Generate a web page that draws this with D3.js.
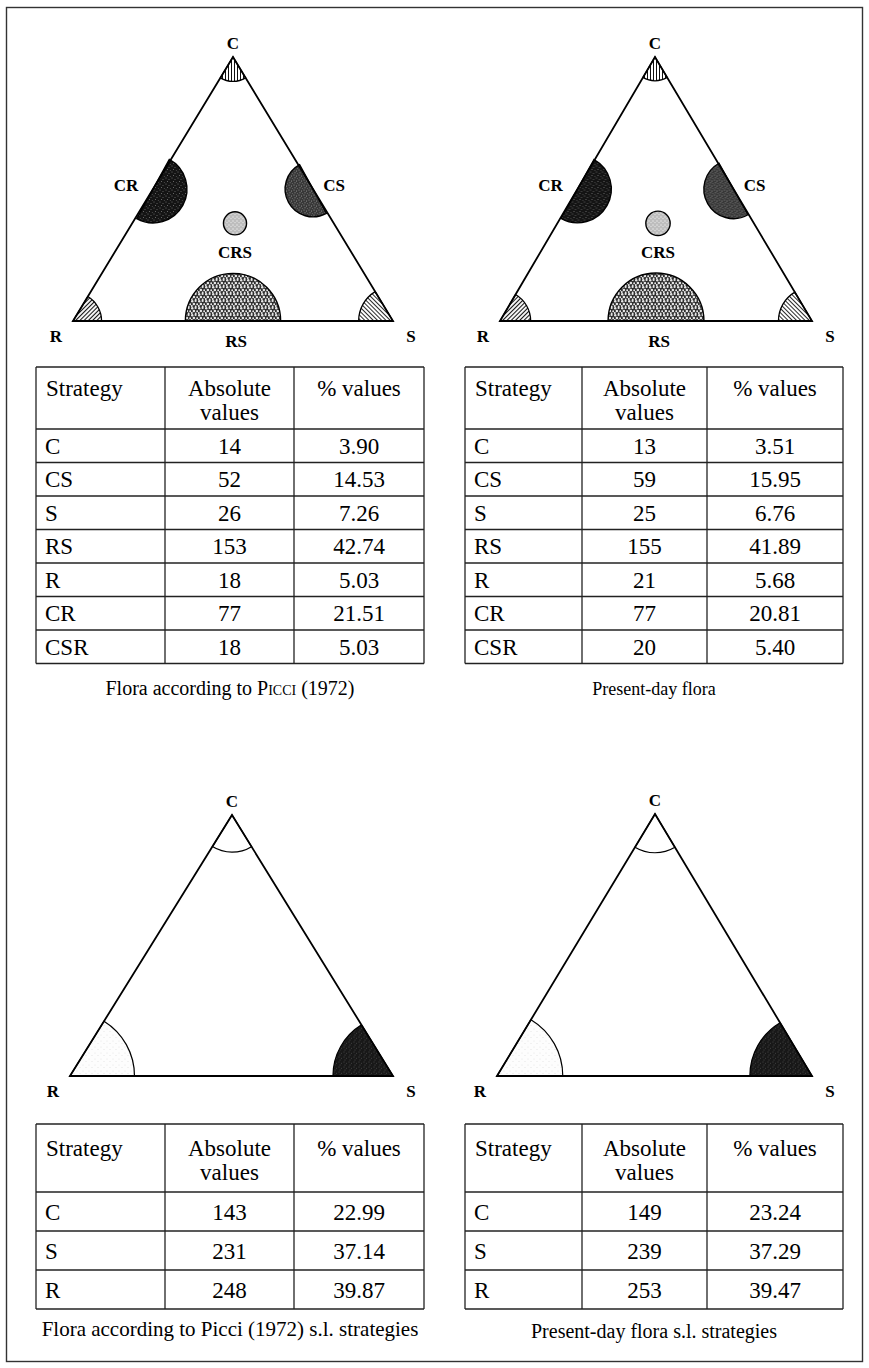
<!DOCTYPE html>
<html><head><meta charset="utf-8">
<script src="https://cdn.jsdelivr.net/npm/d3@7"></script>
<style>body{margin:0;background:#fff}svg{display:block}</style>
</head><body><svg id="fig" width="869" height="1368"></svg>
<script>
// ---- data ----
const strategies   = ["C", "CS", "S", "RS", "R", "CR", "CSR"];
const picciAbs     = [14, 52, 26, 153, 18, 77, 18];
const picciPct     = [3.90, 14.53, 7.26, 42.74, 5.03, 21.51, 5.03];
const presentAbs   = [13, 59, 25, 155, 21, 77, 20];
const presentPct   = [3.51, 15.95, 6.76, 41.89, 5.68, 20.81, 5.40];

const slStrategies = ["C", "S", "R"];
const picciSlAbs   = [143, 231, 248];
const picciSlPct   = [22.99, 37.14, 39.87];
const presentSlAbs = [149, 239, 253];
const presentSlPct = [23.24, 37.29, 39.47];

const headerLabels = ["Strategy", "Absolute", "values", "% values"];

// ---- setup ----
const svg = d3.select("#fig");
const serif = "'Liberation Serif','Times New Roman',serif";
const fmt = d3.format(".2f");

svg.append("rect").attr("x", 6.5).attr("y", 7.5).attr("width", 856).attr("height", 1354)
  .attr("fill", "none").attr("stroke", "#333").attr("stroke-width", 1.4);

// ---- fill patterns ----
const defs = svg.append("defs");
function hatch(id, angle, w) {
  const p = defs.append("pattern").attr("id", id).attr("patternUnits", "userSpaceOnUse")
    .attr("width", 3).attr("height", 3).attr("patternTransform", `rotate(${angle})`);
  p.append("rect").attr("width", 3).attr("height", 3).attr("fill", "#fff");
  p.append("line").attr("x1", 1.5).attr("x2", 1.5).attr("y1", 0).attr("y2", 3)
    .attr("stroke", "#111").attr("stroke-width", w);
}
hatch("hatchV", 0, 1);
hatch("hatchR", 45, 1.1);
hatch("hatchS", -45, 0.9);

function stipple(id, bg, dot, size, dots) {
  const p = defs.append("pattern").attr("id", id).attr("patternUnits", "userSpaceOnUse")
    .attr("width", size).attr("height", size);
  p.append("rect").attr("width", size).attr("height", size).attr("fill", bg);
  dots.forEach(([x, y, r]) => p.append("circle").attr("cx", x).attr("cy", y).attr("r", r).attr("fill", dot));
}
stipple("dotsCR", "#141414", "#bbb", 6, [[1, 1, 0.45], [4, 2.5, 0.4], [2.5, 4.5, 0.45], [5.2, 5.3, 0.35]]);
stipple("dotsCS", "#383838", "#aaa", 5, [[1, 1, 0.5], [3.5, 2, 0.5], [2, 3.8, 0.5], [4.3, 4.4, 0.4]]);
stipple("dotsCRS", "#bdbdbd", "#eee", 4, [[1, 1, 0.7], [3, 2.6, 0.6]]);
stipple("pebble", "#2e2e2e", "#e6e6e6", 7,
  [[1.2, 1.3, 1.2], [4.6, 1.0, 1.1], [2.9, 3.9, 1.25], [6.2, 4.2, 1.0], [0.8, 6.0, 1.0], [4.7, 6.4, 0.9]]);
stipple("dotsDark", "#181818", "#777", 5, [[1, 1, 0.45], [3.6, 2.2, 0.4], [2, 4, 0.45]]);
stipple("dotsLight", "#fdfdfd", "#ddd", 6, [[1, 1, 0.5], [4, 3.5, 0.5]]);

// ---- geometry helpers ----
const ang = (dx, dy) => Math.atan2(dx, -dy);   // d3.arc angle convention
const sub = (a, b) => ({x: a.x - b.x, y: a.y - b.y});

function cornerSpan(V, P, Q) {
  let a1 = ang(P.x - V.x, P.y - V.y), a2 = ang(Q.x - V.x, Q.y - V.y);
  if (a2 < a1) [a1, a2] = [a2, a1];
  if (a2 - a1 > Math.PI) [a1, a2] = [a2, a1 + 2 * Math.PI];
  return [a1, a2];
}

function triangle(g, T) {
  g.append("path").attr("d", d3.line()([[T.L.x, T.L.y], [T.A.x, T.A.y], [T.R.x, T.R.y]]) + "Z")
    .attr("fill", "none").attr("stroke", "#000").attr("stroke-width", 1.8).attr("stroke-linejoin", "miter");
}

function vertexLabels(g, T, size) {
  const t = g.append("g").attr("font-family", serif).attr("font-weight", "bold")
    .attr("font-size", size).attr("text-anchor", "middle").attr("fill", "#000");
  t.append("text").attr("x", T.A.x).attr("y", T.A.y - 8).text("C");
  t.append("text").attr("x", T.L.x - 17).attr("y", T.L.y + 21).text("R");
  t.append("text").attr("x", T.R.x + 18).attr("y", T.R.y + 21).text("S");
  return t;
}

// ---- full CSR triangle: shape area proportional to number of species ----
const areaScale = d3.scaleLinear().domain([0, 1]).range([0, 23.3]);

function fullTernary(T, abs) {
  const g = svg.append("g");
  const v = Object.fromEntries(strategies.map((s, i) => [s, abs[i]]));
  const cen = {x: (T.A.x + T.L.x + T.R.x) / 3, y: (T.A.y + T.L.y + T.R.y) / 3};
  const arc = d3.arc().innerRadius(0);

  const corners = [["C", T.A, T.L, T.R, "hatchV"], ["R", T.L, T.A, T.R, "hatchR"], ["S", T.R, T.A, T.L, "hatchS"]];
  corners.forEach(([s, V, P, Q, fill]) => {
    const [a1, a2] = cornerSpan(V, P, Q);
    const r = Math.sqrt(2 * areaScale(v[s]) / (a2 - a1));
    g.append("path").attr("transform", `translate(${V.x},${V.y})`)
      .attr("d", arc({outerRadius: r, startAngle: a1, endAngle: a2}))
      .attr("fill", `url(#${fill})`).attr("stroke", "#000").attr("stroke-width", 1.3);
  });

  const mids = [["CR", T.A, T.L, "dotsCR"], ["CS", T.A, T.R, "dotsCS"], ["RS", T.L, T.R, "pebble"]];
  mids.forEach(([s, P, Q, fill]) => {
    const M = {x: (P.x + Q.x) / 2, y: (P.y + Q.y) / 2};
    const d = sub(cen, M);
    const ac = ang(d.x, d.y);
    const r = Math.sqrt(2 * areaScale(v[s]) / Math.PI);
    g.append("path").attr("transform", `translate(${M.x},${M.y})`)
      .attr("d", arc({outerRadius: r, startAngle: ac - Math.PI / 2, endAngle: ac + Math.PI / 2}))
      .attr("fill", `url(#${fill})`).attr("stroke", "#000").attr("stroke-width", 1.4);
  });

  // central CSR circle
  const mx = (T.L.x + T.R.x) / 2;
  const cy = T.L.y - 0.37 * (T.L.y - T.A.y);
  const rc = Math.sqrt(2 * areaScale(v["CSR"]) / (2 * Math.PI));
  g.append("circle").attr("cx", mx + 2).attr("cy", cy).attr("r", rc)
    .attr("fill", "url(#dotsCRS)").attr("stroke", "#000").attr("stroke-width", 1.4);

  triangle(g, T);
  const t = vertexLabels(g, T, 17);
  const midL = {x: (T.A.x + T.L.x) / 2, y: (T.A.y + T.L.y) / 2};
  const midR = {x: (T.A.x + T.R.x) / 2, y: (T.A.y + T.R.y) / 2};
  t.append("text").attr("x", midL.x - 27).attr("y", midL.y + 2).text("CR");
  t.append("text").attr("x", midR.x + 21).attr("y", midR.y + 2).text("CS");
  t.append("text").attr("x", mx + 2).attr("y", cy + 35).text("CRS");
  t.append("text").attr("x", mx + 3).attr("y", T.L.y + 26).text("RS");
}

// ---- s.l. triangle: corner radius proportional to number of species ----
const slRadius = d3.scaleLinear().domain([0, 250]).range([0, 65]);

function slTernary(T, abs) {
  const g = svg.append("g");
  const v = Object.fromEntries(slStrategies.map((s, i) => [s, abs[i]]));
  const arc = d3.arc().innerRadius(0);
  const corners = [["C", T.A, T.L, T.R, "#fff"], ["R", T.L, T.A, T.R, "url(#dotsLight)"], ["S", T.R, T.A, T.L, "url(#dotsDark)"]];
  corners.forEach(([s, V, P, Q, fill]) => {
    const [a1, a2] = cornerSpan(V, P, Q);
    g.append("path").attr("transform", `translate(${V.x},${V.y})`)
      .attr("d", arc({outerRadius: slRadius(v[s]), startAngle: a1, endAngle: a2}))
      .attr("fill", fill).attr("stroke", "#000").attr("stroke-width", 1.2);
  });
  triangle(g, T);
  vertexLabels(g, T, 17);
}

// ---- tables ----
function table(cols, y0, headH, rowH, names, abs, pct, caption, capY, capSize) {
  const g = svg.append("g").attr("font-family", serif).attr("fill", "#000");
  const y = d3.scaleBand().domain(names).range([y0 + headH, y0 + headH + names.length * rowH]);
  const yEnd = y0 + headH + names.length * rowH;
  const line = (x1, y1, x2, y2) => g.append("line").attr("x1", x1).attr("y1", y1).attr("x2", x2).attr("y2", y2)
    .attr("stroke", "#222").attr("stroke-width", 1.3);
  line(cols[0], y0, cols[3], y0);
  line(cols[0], y0 + headH, cols[3], y0 + headH);
  names.forEach(n => line(cols[0], y(n) + rowH, cols[3], y(n) + rowH));
  cols.forEach(x => line(x, y0, x, yEnd));

  const fs = 23;
  const c1 = (cols[1] + cols[2]) / 2, c2 = (cols[2] + cols[3]) / 2;
  const hb = Math.round(headH * 0.47);
  g.append("text").attr("x", cols[0] + 10).attr("y", y0 + hb).attr("font-size", fs).text(headerLabels[0]);
  g.append("text").attr("x", c1).attr("y", y0 + hb).attr("font-size", fs).attr("text-anchor", "middle").text(headerLabels[1]);
  g.append("text").attr("x", c1).attr("y", y0 + hb + 24).attr("font-size", fs).attr("text-anchor", "middle").text(headerLabels[2]);
  g.append("text").attr("x", c2).attr("y", y0 + hb).attr("font-size", fs).attr("text-anchor", "middle").text(headerLabels[3]);

  names.forEach((n, i) => {
    const by = y(n) + rowH / 2 + 8;
    g.append("text").attr("x", cols[0] + 9).attr("y", by).attr("font-size", fs).text(n);
    g.append("text").attr("x", c1).attr("y", by).attr("font-size", fs).attr("text-anchor", "middle").text(abs[i]);
    g.append("text").attr("x", c2).attr("y", by).attr("font-size", fs).attr("text-anchor", "middle").text(fmt(pct[i]));
  });

  const cap = g.append("text").attr("x", (cols[0] + cols[3]) / 2).attr("y", capY)
    .attr("font-size", capSize).attr("text-anchor", "middle");
  caption.forEach(([txt, sc]) => cap.append("tspan").attr("font-variant", sc ? "small-caps" : null).text(txt));
}

// ---- panels ----
fullTernary({A: {x: 233, y: 57}, L: {x: 73, y: 321}, R: {x: 393, y: 321}}, picciAbs);
fullTernary({A: {x: 655, y: 57}, L: {x: 500, y: 321}, R: {x: 812, y: 321}}, presentAbs);

table([36, 165, 294, 424], 367, 62, 33.5, strategies, picciAbs, picciPct,
  [["Flora according to ", false], ["Picci", true], [" (1972)", false]], 695, 20);
table([465, 582, 707, 843], 367, 62, 33.5, strategies, presentAbs, presentPct,
  [["Present-day flora", false]], 695, 18);

slTernary({A: {x: 232, y: 815}, L: {x: 70, y: 1076}, R: {x: 393, y: 1076}}, picciSlAbs);
slTernary({A: {x: 655, y: 814}, L: {x: 497, y: 1076}, R: {x: 812, y: 1076}}, presentSlAbs);

table([36, 165, 294, 424], 1124, 68, 39, slStrategies, picciSlAbs, picciSlPct,
  [["Flora according to Picci (1972) s.l. strategies", false]], 1336, 21);
table([465, 582, 707, 843], 1124, 68, 39, slStrategies, presentSlAbs, presentSlPct,
  [["Present-day flora s.l. strategies", false]], 1338, 20);
</script></body></html>
